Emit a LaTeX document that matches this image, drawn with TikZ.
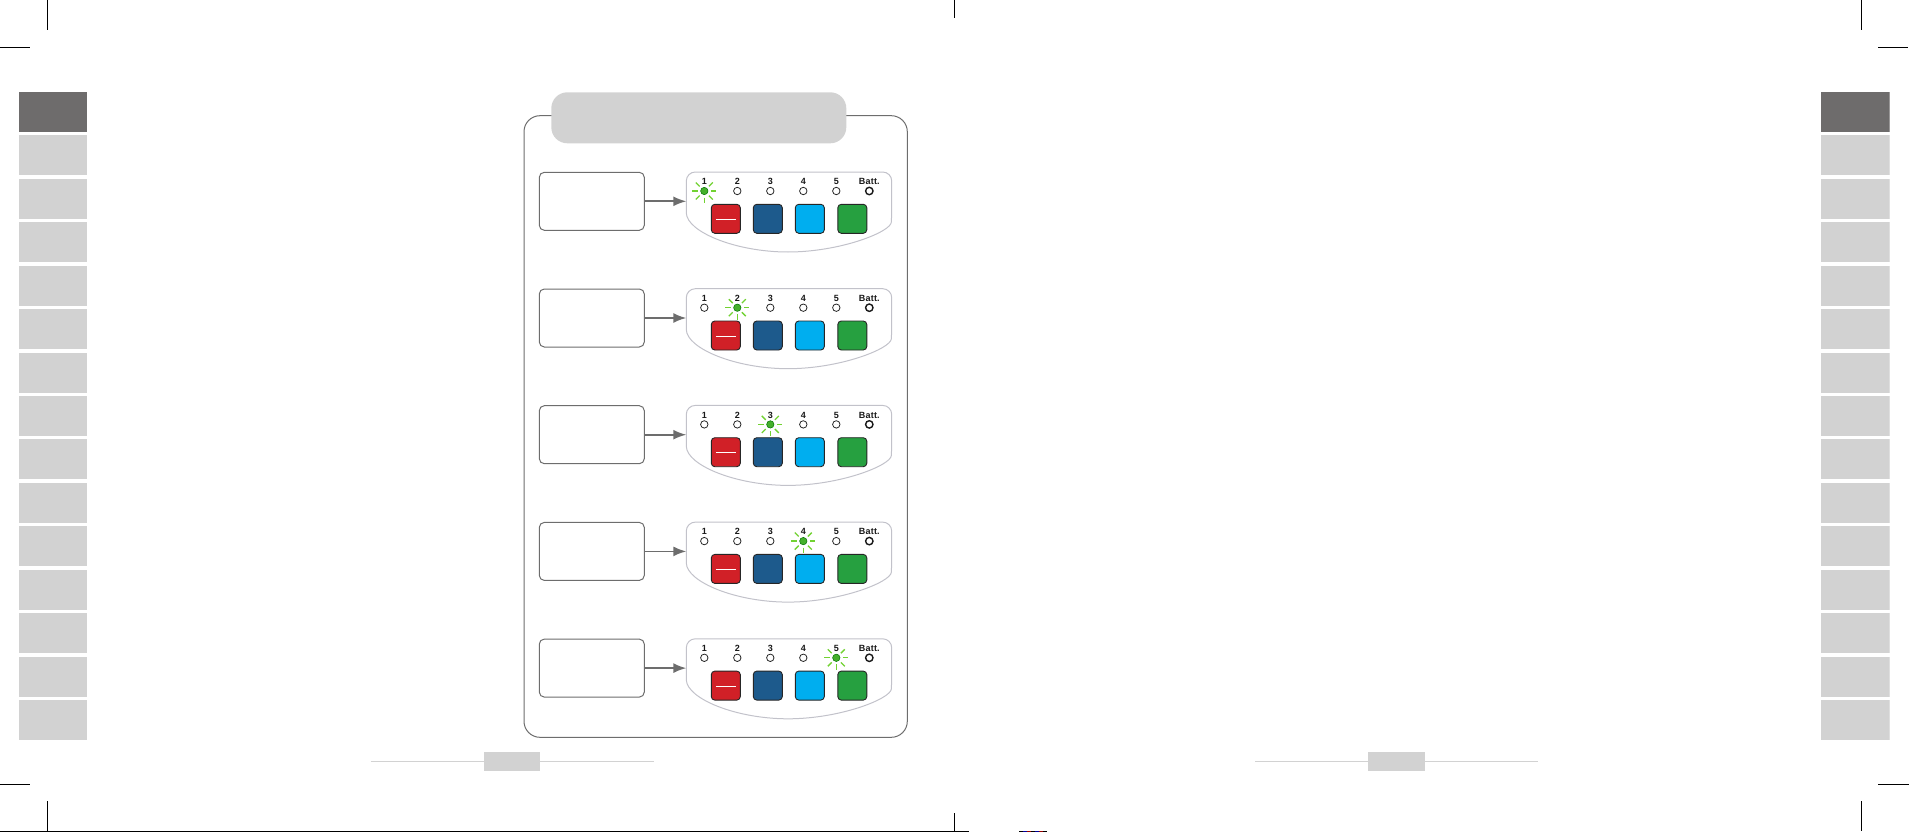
\documentclass[tikz,border=0pt]{standalone}
\usepackage{fontspec}
\setmainfont{Liberation Sans}
\usetikzlibrary{arrows.meta}
\definecolor{tabgray}{HTML}{D2D2D2}
\definecolor{tabdark}{HTML}{6E6C6C}
\definecolor{framegray}{HTML}{6D6D6D}
\definecolor{panelgray}{HTML}{C2C2CA}
\definecolor{ledgreen}{HTML}{45B02C}
\definecolor{raygreen}{HTML}{72D232}
\definecolor{btnred}{HTML}{D12027}
\definecolor{btnblue}{HTML}{1D5A8C}
\definecolor{btncyan}{HTML}{00AEEF}
\definecolor{btngreen}{HTML}{26A040}
\tikzset{
  crop/.style={draw=black,line width=1.2pt},
  noteBox/.style={draw=framegray,line width=1pt,fill=white,rounded corners=5pt,minimum width=105pt,minimum height=58pt,inner sep=0pt},
  ledOff/.style={circle,minimum size=7.4pt,inner sep=0pt,draw=black!85,line width=0.8pt,fill=white},
  ledBatt/.style={circle,minimum size=7.4pt,inner sep=0pt,draw=black!90,line width=1.4pt,fill=white},
  ledOn/.style={circle,minimum size=7.4pt,inner sep=0pt,draw=green!45!black,line width=0.5pt,fill=ledgreen},
  ray/.style={draw=raygreen,line width=1.3pt},
  btn/.style={draw=black!85,line width=0.9pt,rounded corners=3.5pt,minimum size=29pt,inner sep=0pt},
  ledlabel/.style={font=\fontsize{9}{9}\selectfont\bfseries,inner sep=0pt,text=black!90},
  linkarrow/.style={draw=framegray,line width=1.7pt,-{Latex[length=13pt,width=10pt]}},
  rule/.style={draw=tabgray,line width=1pt},
}
\begin{document}
\begin{tikzpicture}[x=1pt,y=-1pt]
\useasboundingbox (0,0) rectangle (1909,832);
% crop marks
\draw[crop] (47.3,0) -- (47.3,30);
\draw[crop] (0,47.3) -- (30,47.3);
\draw[crop] (954.3,0) -- (954.3,18);
\draw[crop] (1861.3,0) -- (1861.3,30);
\draw[crop] (1878,47.3) -- (1908,47.3);
\draw[crop] (0,784.3) -- (30,784.3);
\draw[crop] (47.3,801) -- (47.3,831);
\draw[crop] (954.3,813) -- (954.3,831);
\draw[crop] (1861.3,801) -- (1861.3,831);
\draw[crop] (1878,784.3) -- (1909,784.3);
\draw[crop] (0,831.3) -- (969,831.3);
% printer's colour strip
\foreach \cx/\cc in {1019/black,1023/blue!60!black,1027/red!60!black,1031/black,1035/blue!60!black,1039/red!60!black,1043/black}{
  \fill[\cc] (\cx,831) rectangle (\cx+4,832);
}
% side tabs
\foreach \i in {0,...,14}{
  \pgfmathsetmacro{\ty}{92+43.43*\i}
  \ifnum\i=0
    \fill[tabdark] (19,\ty) rectangle (87,\ty+40);
    \fill[tabdark] (1821,\ty) rectangle (1889,\ty+40);
    \fill[tabdark!70] (1889,\ty) rectangle (1890.3,\ty+40);
  \else
    \fill[tabgray] (19,\ty) rectangle (87,\ty+40);
    \fill[tabgray] (1821,\ty) rectangle (1889,\ty+40);
    \fill[tabgray!70] (1889,\ty) rectangle (1890.3,\ty+40);
  \fi
}
% footers
\draw[rule] (370.5,761.3) -- (654,761.3);
\fill[tabgray] (484,752) rectangle (540,771);
\draw[rule] (1255,761.3) -- (1537.7,761.3);
\fill[tabgray] (1368,752) rectangle (1425,771);
% main frame and title
\draw[draw=framegray,line width=1pt,rounded corners=16pt] (524,115.7) rectangle (907.3,737.3);
\fill[tabgray,rounded corners=16pt] (551.3,92.3) rectangle (846.3,143.3);
% rows
\foreach \r/\on in {0/1,1/2,2/3,3/4,4/5}{
  \begin{scope}[yshift=-116.7*\r pt]
    \node[noteBox] (note\r) at (591.8,201.3) {};
    \draw[panelgray,line width=1pt,rounded corners=9pt] (686.3,213) -- (686.3,172) -- (891.7,172) -- (891.7,213)
      [sharp corners] .. controls (891,232) and (840,252) .. (788,252)
      .. controls (736,252) and (687,232) .. (686.3,213) -- cycle;
    \coordinate (panel\r) at (686.3,201.3);
    \foreach \n/\lx in {1/704.3,2/737.3,3/770.3,4/803.3,5/836.3}{
      \ifnum\n=\on
        \foreach \a in {0,45,...,315}{
          \draw[ray] (\lx,191) ++(\a:6.5) -- ++(\a:5.5);
        }
        \node[ledOn] (led\r-\n) at (\lx,191) {};
      \else
        \node[ledOff] (led\r-\n) at (\lx,191) {};
      \fi
      \node[ledlabel,fill=white,inner xsep=0.5pt,inner ysep=0.3pt] (lab\r-\n) at (\lx,181.6) {\n};
    }
    \node[ledlabel] (labB\r) at (869.3,181.6) {B\kern0.2pt a\kern0.2pt t\kern0.2pt t\kern0.2pt .};
    \node[ledBatt] (ledB\r) at (869.3,191) {};
    \node[btn,fill=btnred] (bA\r) at (725.8,218.8) {};
    \node[btn,fill=btnblue] (bB\r) at (767.8,218.8) {};
    \node[btn,fill=btncyan] (bC\r) at (809.8,218.8) {};
    \node[btn,fill=btngreen] (bD\r) at (852.3,218.8) {};
    \draw[white,line width=1pt] (716.3,219.3) -- (736,219.3);
    \draw[linkarrow] (note\r.east) -- (panel\r);
  \end{scope}
}
\end{tikzpicture}
\end{document}
